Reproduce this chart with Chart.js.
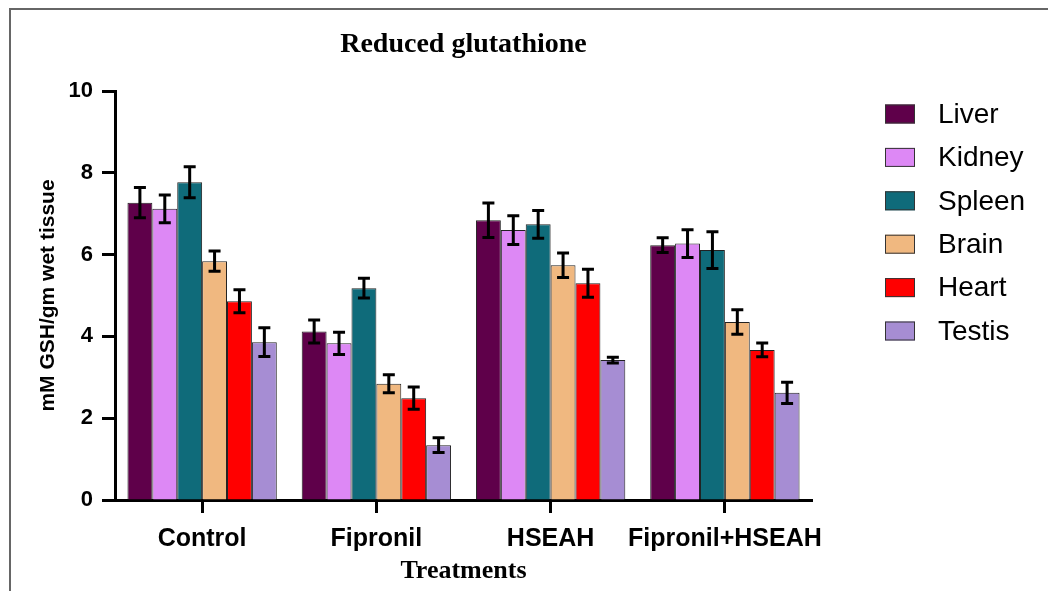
<!DOCTYPE html>
<html><head><meta charset="utf-8">
<script src="https://cdn.jsdelivr.net/npm/chart.js@4.4.0/dist/chart.umd.min.js"></script>
<style>
html,body{margin:0;padding:0;background:#fff;}
#wrap{position:relative;width:1048px;height:591px;overflow:hidden;background:#fff;}
#frame{position:absolute;left:9px;top:8px;width:2000px;height:2000px;border-left:2px solid #666;border-top:2px solid #666;pointer-events:none;}
canvas{position:absolute;left:0;top:0;}
</style></head><body>
<div id="wrap"><canvas id="c" width="1048" height="591"></canvas><div id="frame"></div></div>
<script>
const categories = ['Control', 'Fipronil', 'HSEAH', 'Fipronil+HSEAH'];
const seriesNames = ['Liver', 'Kidney', 'Spleen', 'Brain', 'Heart', 'Testis'];
const liver  = [7.27, 4.12, 6.84, 6.23];
const kidney = [7.12, 3.83, 6.60, 6.27];
const spleen = [7.77, 5.18, 6.74, 6.11];
const brain  = [5.84, 2.84, 5.74, 4.35];
const heart  = [4.86, 2.49, 5.30, 3.67];
const testis = [3.86, 1.34, 3.42, 2.62];
const liverErr  = [0.37, 0.28, 0.42, 0.18];
const kidneyErr = [0.34, 0.27, 0.35, 0.34];
const spleenErr = [0.38, 0.24, 0.34, 0.45];
const brainErr  = [0.25, 0.22, 0.30, 0.30];
const heartErr  = [0.28, 0.27, 0.34, 0.17];
const testisErr = [0.35, 0.18, 0.07, 0.26];
const yTicks = [0, 2, 4, 6, 8, 10];
const colors = ['#5F004A', '#DD88F5', '#0F6B7A', '#F0B880', '#FF0000', '#A68DD3'];

const values = [liver, kidney, spleen, brain, heart, testis];
const errs = [liverErr, kidneyErr, spleenErr, brainErr, heartErr, testisErr];

const datasets = seriesNames.map((n, i) => ({
  label: n, data: values[i], errors: errs[i],
  backgroundColor: colors[i], borderColor: '#222', borderWidth: 1
}));

const errorBars = {
  id: 'errorBars',
  afterDatasetsDraw(chart) {
    const ctx = chart.ctx, y = chart.scales.y;
    chart.data.datasets.forEach((ds, i) => {
      const meta = chart.getDatasetMeta(i);
      meta.data.forEach((bar, j) => {
        const v = ds.data[j], e = ds.errors[j];
        const yt = y.getPixelForValue(v + e), yb = y.getPixelForValue(v - e);
        ctx.save();
        ctx.strokeStyle = '#000'; ctx.lineWidth = 3; ctx.lineCap = 'butt';
        ctx.beginPath();
        ctx.moveTo(bar.x, yt); ctx.lineTo(bar.x, yb);
        ctx.moveTo(bar.x - 6, yt); ctx.lineTo(bar.x + 6, yt);
        ctx.moveTo(bar.x - 6, yb); ctx.lineTo(bar.x + 6, yb);
        ctx.stroke();
        ctx.restore();
      });
    });
  }
};

const titleAndLegend = {
  id: 'titleAndLegend',
  afterDraw(chart) {
    const ctx = chart.ctx, a = chart.chartArea;
    ctx.save();
    ctx.fillStyle = '#000';
    ctx.font = 'bold 28px "Liberation Serif"';
    ctx.textAlign = 'center'; ctx.textBaseline = 'middle';
    ctx.fillText('Reduced glutathione', (a.left + a.right) / 2, 45);
    ctx.font = '28px "Liberation Sans"';
    ctx.textAlign = 'left';
    chart.data.datasets.forEach((ds, i) => {
      const cy = 114 + i * 43.4;
      ctx.fillStyle = ds.backgroundColor;
      ctx.fillRect(885, cy - 9.5, 30, 19);
      ctx.strokeStyle = '#333'; ctx.lineWidth = 1;
      ctx.strokeRect(885.5, cy - 9, 29, 18);
      ctx.fillStyle = '#000';
      ctx.fillText(ds.label, 938, cy + 1);
    });
    ctx.restore();
  }
};

new Chart(document.getElementById('c'), {
  type: 'bar',
  data: { labels: categories, datasets },
  plugins: [errorBars, titleAndLegend],
  options: {
    responsive: false, animation: false,
    layout: { padding: { top: 91, right: 236, left: 0, bottom: 0 } },
    plugins: { legend: { display: false }, title: { display: false }, tooltip: { enabled: false } },
    datasets: { bar: { categoryPercentage: 0.857, barPercentage: 1 } },
    scales: {
      x: {
        grid: { display: true, drawOnChartArea: false, offset: false, tickLength: 13, tickWidth: 3, tickColor: '#000' },
        border: { display: true, width: 3, color: '#000' },
        ticks: { font: { family: 'Liberation Sans', weight: 'bold', size: 25 }, color: '#000', padding: 11, maxRotation: 0, autoSkip: false },
        title: { display: true, text: 'Treatments', font: { family: 'Liberation Serif', weight: 'bold', size: 26 }, color: '#000', padding: { top: 0, bottom: 4 } },
        afterFit(s) { s.height = 91; }
      },
      y: {
        min: 0, max: 10,
        afterBuildTicks(s) { s.ticks = yTicks.map(v => ({ value: v })); },
        ticks: { font: { family: 'Liberation Sans', weight: 'bold', size: 22 }, color: '#000', padding: 9 },
        grid: { drawOnChartArea: false, tickLength: 13, tickWidth: 3, tickColor: '#000' },
        border: { display: true, width: 3, color: '#000' },
        title: { display: true, text: 'mM GSH/gm wet tissue', font: { family: 'Liberation Sans', weight: 'bold', size: 21 }, color: '#000', padding: { top: 36, bottom: 0 } },
        afterFit(s) { s.width = 115; }
      }
    }
  }
});
</script>
</body></html>
